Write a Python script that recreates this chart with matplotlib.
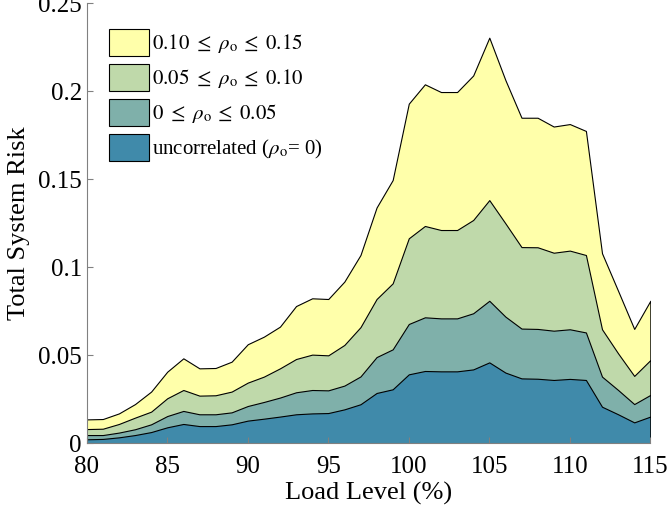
import numpy as np
import matplotlib
matplotlib.use("Agg")
import matplotlib.pyplot as plt

plt.rcParams['font.family'] = ['Liberation Serif', 'DejaVu Serif']
plt.rcParams['mathtext.fontset'] = 'stix'

# Load level (%)
carga = list(range(80, 116))

# Total system risk, upper bound of each band
riesgo_015 = [0.0136, 0.0138, 0.0170, 0.0223, 0.0294, 0.0407, 0.0483, 0.0426, 0.0428, 0.0464,
              0.0563, 0.0606, 0.0663, 0.0780, 0.0824, 0.0820, 0.0919, 0.1070, 0.1340, 0.1496,
              0.1930, 0.2040, 0.1996, 0.1996, 0.2090, 0.2305, 0.2064, 0.1850, 0.1850, 0.1800,
              0.1814, 0.1775, 0.1080, 0.0866, 0.0650, 0.0810]
riesgo_010 = [0.0081, 0.0083, 0.0110, 0.0146, 0.0180, 0.0256, 0.0303, 0.0271, 0.0273, 0.0294,
              0.0345, 0.0379, 0.0426, 0.0479, 0.0504, 0.0500, 0.0559, 0.0660, 0.0820, 0.0909,
              0.1165, 0.1235, 0.1212, 0.1212, 0.1269, 0.1382, 0.1250, 0.1115, 0.1114, 0.1083,
              0.1095, 0.1070, 0.0648, 0.0511, 0.0383, 0.0473]
riesgo_005 = [0.0047, 0.0047, 0.0061, 0.0080, 0.0108, 0.0155, 0.0184, 0.0165, 0.0165, 0.0176,
              0.0212, 0.0235, 0.0260, 0.0290, 0.0303, 0.0301, 0.0328, 0.0380, 0.0490, 0.0534,
              0.0678, 0.0716, 0.0710, 0.0710, 0.0739, 0.0810, 0.0720, 0.0652, 0.0650, 0.0640,
              0.0648, 0.0630, 0.0379, 0.0303, 0.0223, 0.0275]
riesgo_0 = [0.0023, 0.0025, 0.0034, 0.0047, 0.0064, 0.0091, 0.0110, 0.0098, 0.0098, 0.0108,
            0.0129, 0.0140, 0.0152, 0.0165, 0.0170, 0.0172, 0.0193, 0.0222, 0.0286, 0.0307,
            0.0392, 0.0411, 0.0409, 0.0409, 0.0420, 0.0460, 0.0402, 0.0369, 0.0367, 0.0360,
            0.0366, 0.0360, 0.0208, 0.0165, 0.0119, 0.0152]

etiquetas = [r'$0.10\ \leq\ \rho_{\mathrm{o}}\,\leq\ 0.15$',
             r'$0.05\ \leq\ \rho_{\mathrm{o}}\,\leq\ 0.10$',
             r'$0\ \leq\ \rho_{\mathrm{o}}\,\leq\ 0.05$',
             r'uncorrelated ($\rho_{\mathrm{o}}$= 0)']
colores = ['#FFFFAA', '#BFD9AA', '#7FB0AA', '#408AAA']

fig = plt.figure(figsize=(6.67, 5.14), dpi=100)
ax = fig.add_axes([0.130, 0.1375, 0.845, 0.856])

# areas superpuestas, de la banda mas alta a la mas baja
for serie, color, etiqueta in zip([riesgo_015, riesgo_010, riesgo_005, riesgo_0], colores, etiquetas):
    ax.fill_between(carga, 0, serie, facecolor=color, edgecolor='black', linewidth=0.8, label=etiqueta)

ax.set_xlim(80, 115)
ax.set_ylim(0, 0.25)
ax.set_xticks(range(80, 116, 5))
ax.set_yticks([0, 0.05, 0.1, 0.15, 0.2, 0.25])
ax.set_yticklabels(['0', '0.05', '0.1', '0.15', '0.2', '0.25'])
ax.tick_params(direction='in', labelsize=18, length=4, color='gray')
ax.tick_params(axis='x', pad=9)
ax.spines['top'].set_visible(False)
ax.spines['right'].set_visible(False)
ax.spines['left'].set_color('gray')
ax.spines['bottom'].set_color('gray')

ax.set_xlabel('Load Level (%)', fontsize=19, labelpad=3)
ax.set_ylabel('Total System Risk', fontsize=19, labelpad=6)

ax.legend(loc='upper left', bbox_to_anchor=(0.0254, 0.961), frameon=False, fontsize=15,
          handlelength=1.9, handleheight=1.62, labelspacing=0.38, handletextpad=0.15,
          borderaxespad=0.0)

plt.savefig('out.png', dpi=100)
